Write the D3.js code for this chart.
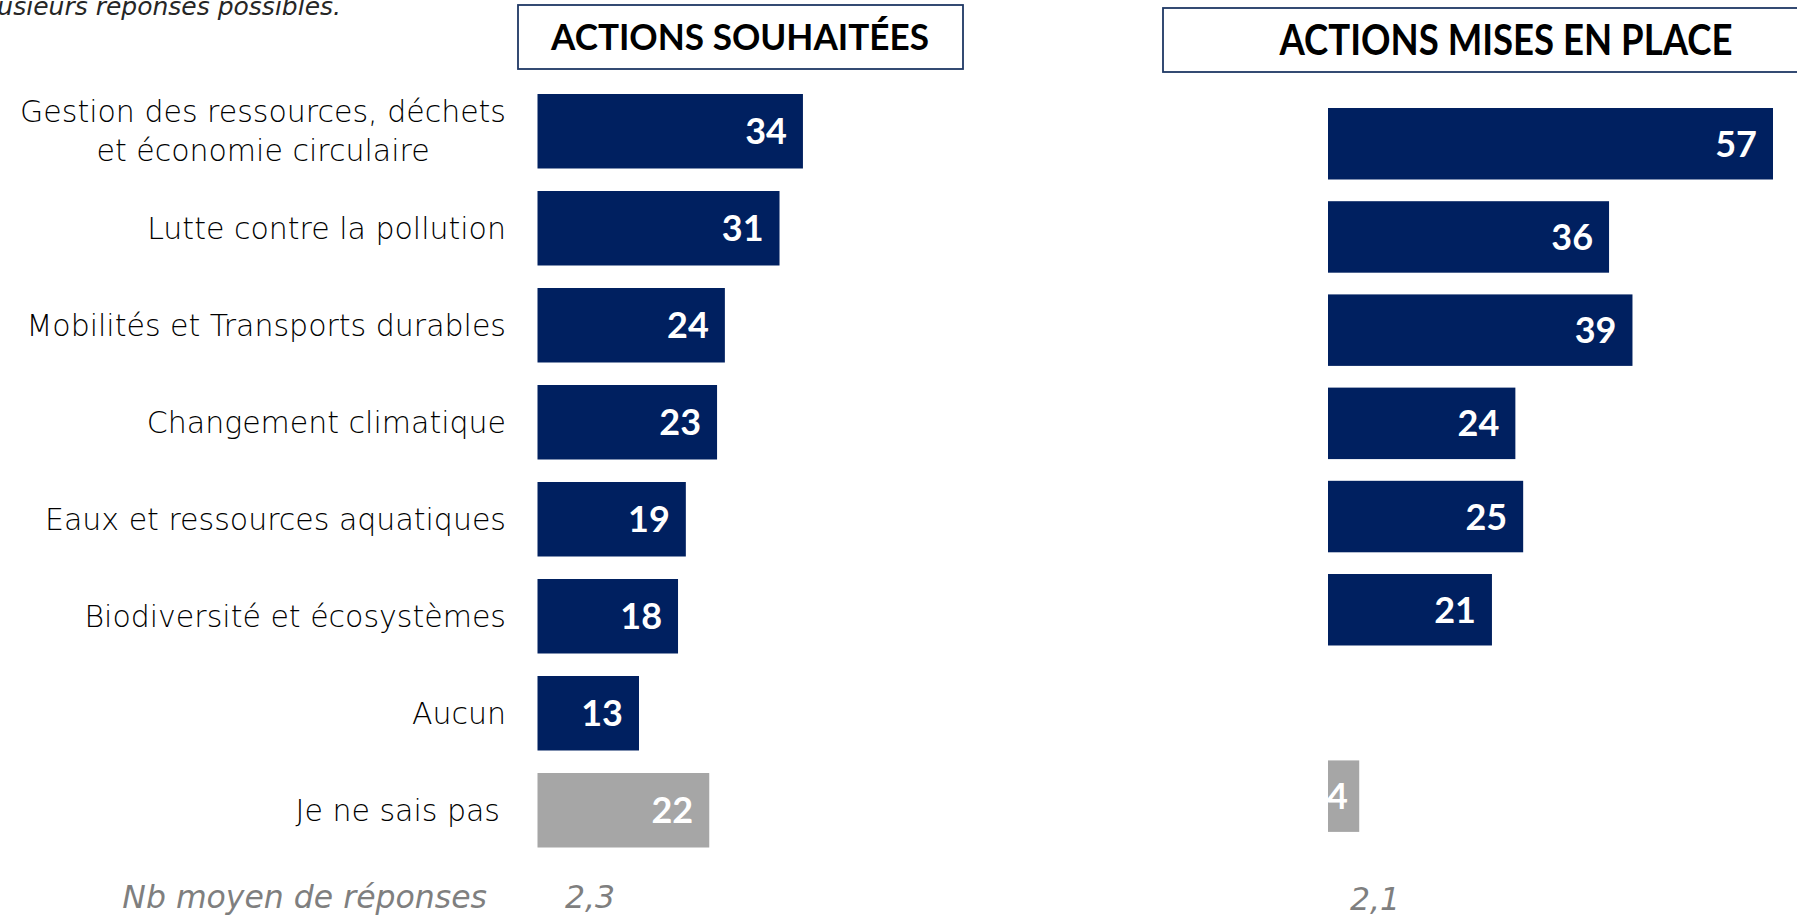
<!DOCTYPE html>
<html>
<head>
<meta charset="utf-8">
<script src="https://cdn.jsdelivr.net/npm/d3@7"></script>
<style>
  html, body { margin: 0; padding: 0; background: #fff; }
  svg { display: block; }
</style>
</head>
<body>
<div id="chart"></div>
<script>
// -- Data ---------------------------------------------------------
var categories = [
  "Gestion des ressources, déchets|et économie circulaire",
  "Lutte contre la pollution",
  "Mobilités et Transports durables",
  "Changement climatique",
  "Eaux et ressources aquatiques",
  "Biodiversité et écosystèmes",
  "Aucun",
  "Je ne sais pas"
];
var souhaitees   = [34, 31, 24, 23, 19, 18, 13, 22];
var misesEnPlace = [57, 36, 39, 24, 25, 21, null, 4];
var titles = ["ACTIONS SOUHAITÉES", "ACTIONS MISES EN PLACE"];
var avgLabel = "Nb moyen de réponses";
var avgValues = ["2,3", "2,1"];
var note = "Plusieurs réponses possibles.";

// -- Style --------------------------------------------------------
var W = 1797, H = 918;
var NAVY = "#002060", GREY = "#a6a6a6";
var FONT = "Lato, 'Open Sans', sans-serif";
var LABEL_FONT = "'DejaVu Sans', Lato, sans-serif";

var svg = d3.select("#chart").append("svg")
  .attr("width", W).attr("height", H);

// shared value scale (same units on both panels)
var x = d3.scaleLinear().domain([0, 57]).range([0, 445]);

var panels = [
  { values: souhaitees,   x0: 537.5, y: d3.scaleBand().domain(categories).range([82.75, 858.75]).paddingInner(0.232).paddingOuter(0.116) },
  { values: misesEnPlace, x0: 1328,  y: d3.scaleBand().domain(categories).range([97.15, 842.75]).paddingInner(0.233).paddingOuter(0.1165) }
];

function isGrey(i) { return categories[i] === "Je ne sais pas"; }

panels.forEach(function (p) {
  var rows = p.values.map(function (v, i) { return { cat: categories[i], v: v, i: i }; })
    .filter(function (d) { return d.v != null; });

  var g = svg.append("g");
  g.selectAll("rect").data(rows).join("rect")
    .attr("x", p.x0)
    .attr("y", function (d) { return p.y(d.cat); })
    .attr("width", function (d) { return x(d.v); })
    .attr("height", p.y.bandwidth())
    .attr("fill", function (d) { return isGrey(d.i) ? GREY : NAVY; });

  g.selectAll("text").data(rows).join("text")
    .attr("x", function (d) { return Math.max(p.x0 + 20, p.x0 + x(d.v) - 16); })
    .attr("y", function (d) { return p.y(d.cat) + p.y.bandwidth() / 2; })
    .attr("dy", "0.36em")
    .attr("text-anchor", "end")
    .attr("font-family", FONT)
    .attr("font-weight", 700)
    .attr("font-size", "36px")
    .attr("fill", "#fff")
    .text(function (d) { return d.v; });
});

// category labels (left panel only)
var yl = panels[0].y;
var lab = svg.append("g")
  .attr("font-family", LABEL_FONT)
  .attr("font-weight", 200)
  .attr("font-size", "30px")
  .attr("fill", "#000");

categories.forEach(function (c) {
  var lines = c.split("|");
  var cy = yl(c) + yl.bandwidth() / 2;
  var right = c === "Je ne sais pas" ? 500 : 506;
  var t = lab.append("text");
  lines.forEach(function (ln, k) {
    t.append("tspan")
      .attr("y", cy + (k - (lines.length - 1) / 2) * 39)
      .attr("dy", "0.35em")
      .text(ln);
  });
  if (lines.length > 1) {
    // block centred under its widest line, which is right-aligned with the others
    var w0 = t.select("tspan").node().getComputedTextLength();
    t.attr("text-anchor", "middle").selectAll("tspan").attr("x", right - w0 / 2);
  } else {
    t.attr("text-anchor", "end").selectAll("tspan").attr("x", right);
  }
});

// panel titles
var boxes = [
  { x: 518, y: 5, w: 445, h: 64, tx: 740, tl: 378 },
  { x: 1163, y: 8, w: 650, h: 64, tx: 1506, tl: 453 }
];
boxes.forEach(function (b, i) {
  svg.append("rect")
    .attr("x", b.x).attr("y", b.y).attr("width", b.w).attr("height", b.h)
    .attr("fill", "#fff").attr("stroke", "#1f3864").attr("stroke-width", 1.8);
  svg.append("text")
    .attr("x", b.tx).attr("y", b.y + b.h / 2).attr("dy", "0.36em")
    .attr("text-anchor", "middle")
    .attr("font-family", FONT).attr("font-weight", 700)
    .attr("font-size", i === 0 ? "37px" : "42px")
    .attr("textLength", b.tl).attr("lengthAdjust", "spacingAndGlyphs")
    .attr("fill", "#000")
    .text(titles[i]);
});

// note, clipped at the top-left corner
svg.append("text")
  .attr("x", 341).attr("y", 15)
  .attr("text-anchor", "end")
  .attr("font-family", LABEL_FONT).attr("font-weight", 200).attr("font-style", "italic")
  .attr("font-size", "25px").attr("fill", "#262626")
  .text(note);

// average number of answers
var foot = svg.append("g")
  .attr("font-family", LABEL_FONT).attr("font-weight", 200).attr("font-style", "italic")
  .attr("font-size", "31.5px").attr("fill", "#7f7f7f");
foot.append("text").attr("x", 487).attr("y", 897).attr("dy", "0.35em")
  .attr("text-anchor", "end").text(avgLabel);
foot.append("text").attr("x", 565).attr("y", 897).attr("dy", "0.35em").text(avgValues[0]);
foot.append("text").attr("x", 1350).attr("y", 899).attr("dy", "0.35em").text(avgValues[1]);
</script>
</body>
</html>
